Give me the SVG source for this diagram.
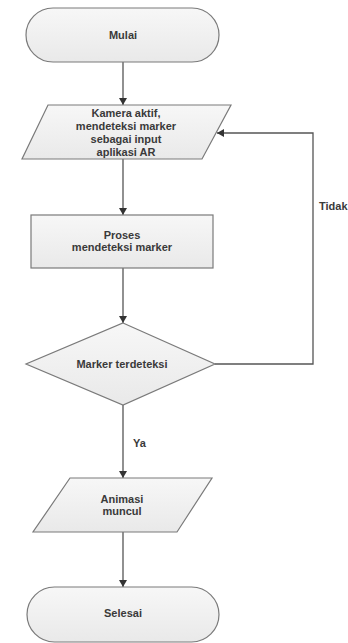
<svg xmlns="http://www.w3.org/2000/svg" width="348" height="643" viewBox="0 0 348 643">
<defs>
<linearGradient id="g" x1="0" y1="0" x2="0" y2="1"><stop offset="0" stop-color="#f7f7f7"/><stop offset="1" stop-color="#e9e9e9"/></linearGradient>
<marker id="ah" markerWidth="8" markerHeight="8" refX="7" refY="4" orient="auto" markerUnits="userSpaceOnUse"><path d="M0,0 L7,4 L0,8 Z" fill="#333"/></marker>
</defs>
<style>
.s{fill:url(#g);stroke:#7a7a7a;stroke-width:1.2}
.t{font-family:"Liberation Sans",Arial,sans-serif;font-weight:bold;font-size:11px;fill:#3a3a3a;text-anchor:middle}
.c{fill:none;stroke:#555;stroke-width:1.3}
</style>
<rect width="348" height="643" fill="#fff"/>
<g id="connectors">
<line class="c" x1="123" y1="62" x2="123" y2="105" marker-end="url(#ah)"/>
<line class="c" x1="123" y1="159" x2="123" y2="215" marker-end="url(#ah)"/>
<line class="c" x1="123" y1="268" x2="123" y2="323" marker-end="url(#ah)"/>
<line class="c" x1="123" y1="405" x2="123" y2="478" marker-end="url(#ah)"/>
<line class="c" x1="123" y1="532" x2="123" y2="587" marker-end="url(#ah)"/>
<polyline class="c" points="215,364 313,364 313,133 217,133" marker-end="url(#ah)"/>
<text class="t" x="319" y="210" style="text-anchor:start">Tidak</text>
<text class="t" x="133" y="447" style="text-anchor:start">Ya</text>
</g>
<g id="start">
<rect class="s" x="26" y="8" width="193" height="54" rx="27"/>
<text class="t" x="123" y="39">Mulai</text>
</g>
<g id="input">
<polygon class="s" points="48,105 231,105 202,159 22,159"/>
<text class="t" x="126" y="117">Kamera aktif,</text>
<text class="t" x="126" y="130">mendeteksi marker</text>
<text class="t" x="126" y="143">sebagai input</text>
<text class="t" x="126" y="156">aplikasi AR</text>
</g>
<g id="process">
<rect class="s" x="31" y="215" width="182" height="53"/>
<text class="t" x="122" y="239">Proses</text>
<text class="t" x="122" y="251">mendeteksi marker</text>
</g>
<g id="decision">
<polygon class="s" points="123,323 215,364 123,405 26,364"/>
<text class="t" x="122" y="368">Marker terdeteksi</text>
</g>
<g id="output">
<polygon class="s" points="70,478 212,478 177,532 33,532"/>
<text class="t" x="122" y="503">Animasi</text>
<text class="t" x="122" y="515">muncul</text>
</g>
<g id="end">
<rect class="s" x="27" y="587" width="192" height="55" rx="27.5"/>
<text class="t" x="123" y="617">Selesai</text>
</g>
</svg>
